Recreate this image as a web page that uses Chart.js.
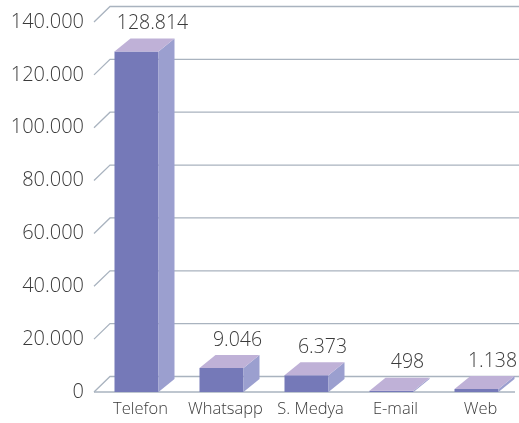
<!DOCTYPE html>
<html>
<head>
<meta charset="utf-8">
<script src="https://cdn.jsdelivr.net/npm/chart.js@4/dist/chart.umd.min.js"></script>
<style>
  html, body { margin: 0; padding: 0; background: #ffffff; }
  #wrap { width: 519px; height: 423px; position: relative; }
</style>
</head>
<body>
<div id="wrap"><canvas id="c"></canvas></div>
<script>
const categories = ['Telefon', 'Whatsapp', 'S. Medya', 'E-mail', 'Web'];
const values = [128814, 9046, 6373, 498, 1138];
const yMin = 0;
const yMax = 140000;
const yStep = 20000;

function fmt(v) {
  return String(Math.round(v)).replace(/\B(?=(\d{3})+(?!\d))/g, '.');
}

const WALL_DX = 16, WALL_DY = 15.5;
const BAR_DX = 16, BAR_DY = 13;
const FRONT = '#7579B8', SIDE = '#9B9FCF', TOP = '#BFB1D7';
const GRID = '#A9B3BF';
const TEXT = '#3a3a3a';
const FONT = "'Open Sans', 'DejaVu Sans', sans-serif";

const depthPlugin = {
  id: 'depth3d',
  beforeDatasetsDraw(chart) {
    const { ctx, chartArea: { left, right }, scales: { y } } = chart;
    ctx.save();
    ctx.strokeStyle = GRID;
    ctx.lineWidth = 1.3;
    y.ticks.forEach(t => {
      const py = y.getPixelForValue(t.value);
      ctx.beginPath();
      ctx.moveTo(left, py);
      ctx.lineTo(left + WALL_DX, py - WALL_DY);
      ctx.lineTo(right, py - WALL_DY);
      ctx.stroke();
    });
    const p0 = y.getPixelForValue(0);
    ctx.beginPath();
    ctx.moveTo(left, p0);
    ctx.lineTo(right - 4, p0);
    ctx.stroke();
    ctx.restore();
  },
  afterDatasetsDraw(chart) {
    const { ctx } = chart;
    const meta = chart.getDatasetMeta(0);
    ctx.save();
    meta.data.forEach((bar, i) => {
      const { x, y, base, width } = bar.getProps(['x', 'y', 'base', 'width'], true);
      const l = x - width / 2, r = x + width / 2;
      ctx.fillStyle = SIDE;
      ctx.beginPath();
      ctx.moveTo(r, y);
      ctx.lineTo(r + BAR_DX, y - BAR_DY);
      ctx.lineTo(r + BAR_DX, base - BAR_DY);
      ctx.lineTo(r, base);
      ctx.closePath();
      ctx.fill();
      ctx.fillStyle = TOP;
      ctx.beginPath();
      ctx.moveTo(l, y);
      ctx.lineTo(l + BAR_DX, y - BAR_DY);
      ctx.lineTo(r + BAR_DX, y - BAR_DY);
      ctx.lineTo(r, y);
      ctx.closePath();
      ctx.fill();
      ctx.fillStyle = TEXT;
      ctx.font = "300 19.5px " + FONT;
      ctx.textAlign = 'center';
      ctx.textBaseline = 'middle';
      ctx.fillText(fmt(chart.data.datasets[0].data[i]), x + BAR_DX, y - BAR_DY - 15);
    });
    ctx.restore();
  }
};

new Chart(document.getElementById('c'), {
  type: 'bar',
  data: {
    labels: categories,
    datasets: [{
      data: values,
      backgroundColor: FRONT,
      borderWidth: 0,
      barPercentage: 44 / 85,
      categoryPercentage: 1
    }]
  },
  options: {
    responsive: true,
    maintainAspectRatio: false,
    animation: false,
    events: [],
    layout: { padding: { top: 22, right: 0, bottom: 0, left: 0 } },
    plugins: { legend: { display: false }, tooltip: { enabled: false } },
    scales: {
      x: {
        grid: { display: false, drawTicks: false },
        border: { display: false },
        ticks: {
          color: TEXT,
          font: { family: FONT, size: 16.5, weight: '300' },
          padding: 7,
          labelOffset: 4,
          maxRotation: 0,
          autoSkip: false
        },
        afterFit(scale) { scale.height = 31; }
      },
      y: {
        min: yMin,
        max: yMax,
        grid: { display: false, drawTicks: false },
        border: { display: false },
        ticks: {
          stepSize: yStep,
          color: TEXT,
          font: { family: FONT, size: 20, weight: '300' },
          padding: 10,
          callback: v => fmt(v)
        },
        afterFit(scale) { scale.width = 94; }
      }
    }
  },
  plugins: [depthPlugin]
});
</script>
</body>
</html>
